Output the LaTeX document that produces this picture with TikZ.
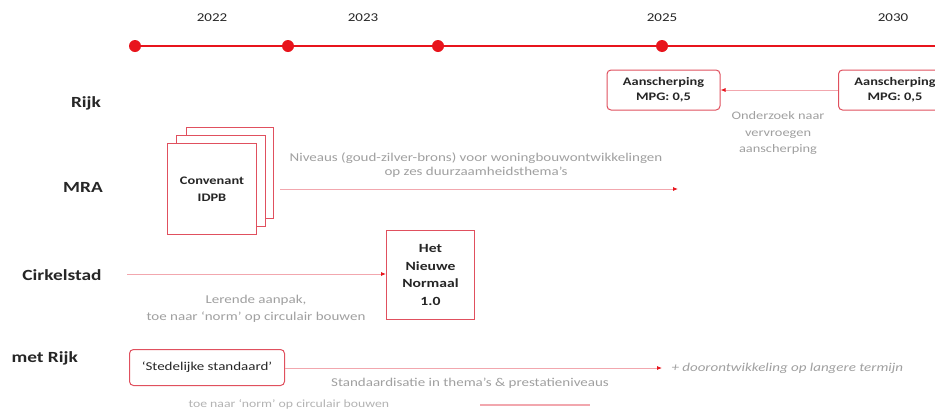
\documentclass[tikz,border=0pt]{standalone}
\usepackage{fontspec}
\setmainfont{Carlito}[FakeStretch=1.25]
\usetikzlibrary{arrows.meta}
\definecolor{tlred}{HTML}{E8141C}
\definecolor{boxred}{HTML}{E0505E}
\definecolor{linepink}{HTML}{F2A7AE}
\definecolor{txtgray}{HTML}{A0A0A0}
\definecolor{lblblack}{HTML}{262626}
\tikzset{
  yearlbl/.style={font=\fontsize{12}{14}\selectfont, text=lblblack},
  rowlbl/.style={font=\fontsize{15.5}{18}\selectfont\bfseries, text=lblblack},
  tldot/.style={circle, fill=tlred, minimum size=12pt, inner sep=0pt},
  redbox/.style={draw=boxred, line width=1pt, fill=white, align=center, font=\fontsize{11.5}{17}\selectfont\bfseries, text=lblblack, inner sep=0pt},
  grytxt/.style={font=\fontsize{12}{14}\selectfont, text=txtgray, align=center},
  conn/.style={draw=linepink, line width=0.8pt, -{Latex[length=5pt,width=4pt,color=tlred]}},
}
\begin{document}
\begin{tikzpicture}[x=1pt,y=-1pt]
\useasboundingbox (0,0) rectangle (935,413);
\fill[white] (0,0) rectangle (935,413);

% timeline
\coordinate (tlend) at (935,46);
\coordinate (tlstart) at (135,46);
\draw[tlred, line width=2.8pt] (tlstart) -- (tlend);
\node[tldot] (d1) at (135,46) {};
\node[tldot] (d2) at (288,46) {};
\node[tldot] (d3) at (438,46) {};
\node[tldot] (d4) at (662,46) {};
\node[yearlbl] (y22) at (212,18) {2022};
\node[yearlbl] (y23) at (363,18) {2023};
\node[yearlbl] (y25) at (662,18) {2025};
\node[yearlbl] (y30) at (893,18) {2030};

% row labels
\node[rowlbl] (rijk) at (86,103) {Rijk};
\node[rowlbl] (mra) at (83,187) {MRA};
\node[rowlbl] (cirk) at (62,275) {Cirkelstad};
\node[rowlbl, anchor=west] (metrijk) at (8,358) {met Rijk};

% Rijk row
\node[redbox, rounded corners=4pt, minimum width=113pt, minimum height=40pt] (a1) at (663.5,90) {Aanscherping\\[-2pt]MPG: 0,5};
\node[redbox, rounded corners=4pt, minimum width=113pt, minimum height=40pt, anchor=west] (a2) at (838,90) {Aanscherping\\[-2pt]MPG: 0,5};
\draw[conn] (a2.west) -- (a1.east);
\node[grytxt, font=\fontsize{11.5}{16.5}\selectfont] (ond) at (778,133) {Onderzoek naar\\vervroegen\\aanscherping};

% MRA row: stacked papers
\draw[boxred, line width=1pt, fill=white] (186,127) rectangle (273,218);
\draw[boxred, line width=1pt, fill=white] (176,135) rectangle (265,226);
\node[redbox, minimum width=89pt, minimum height=91pt, anchor=north west] (conv) at (167,143) {Convenant\\IDPB};
\coordinate (mraend) at (678,189);
\coordinate (mrastart) at (280,189);
\draw[conn] (mrastart) -- (mraend);
\node[grytxt] (niv) at (476,165) {Niveaus (goud-zilver-brons) voor woningbouwontwikkelingen\\op zes duurzaamheidsthema's};

% Cirkelstad row
\node[redbox, font=\fontsize{12.5}{17.5}\selectfont\bfseries, minimum width=88pt, minimum height=89pt, anchor=north west] (hnn) at (386,230) {Het\\Nieuwe\\Normaal\\1.0};
\coordinate (cstart) at (127,274);
\draw[conn] (cstart) -- (hnn.west |- cstart);
\node[grytxt, font=\fontsize{12}{17}\selectfont] (ler) at (256,309) {Lerende aanpak,\\toe naar `norm' op circulair bouwen};

% met Rijk row
\node[redbox, rounded corners=4pt, minimum width=155pt, minimum height=36pt, font=\fontsize{12}{14}\selectfont, anchor=north west] (sted) at (129,349) {`Stedelijke standaard'};
\coordinate (send) at (662,368);
\draw[conn] (sted.east |- send) -- (send);
\node[grytxt, anchor=west, font=\fontsize{12}{14}\selectfont\itshape] (door) at (668,368) {+ doorontwikkeling op langere termijn};
\node[grytxt] (stand) at (470,383) {Standaardisatie in thema's \& prestatieniveaus};

% faint ghost line at bottom
\node[grytxt, anchor=west, text=txtgray!80, font=\fontsize{11}{12}\selectfont] (ghost) at (185,404) {toe naar `norm' op circulair bouwen};
\coordinate (g1) at (480,405);
\coordinate (g2) at (590,405);
\draw[linepink, line width=1.4pt] (g1) -- (g2);
\end{tikzpicture}
\end{document}
